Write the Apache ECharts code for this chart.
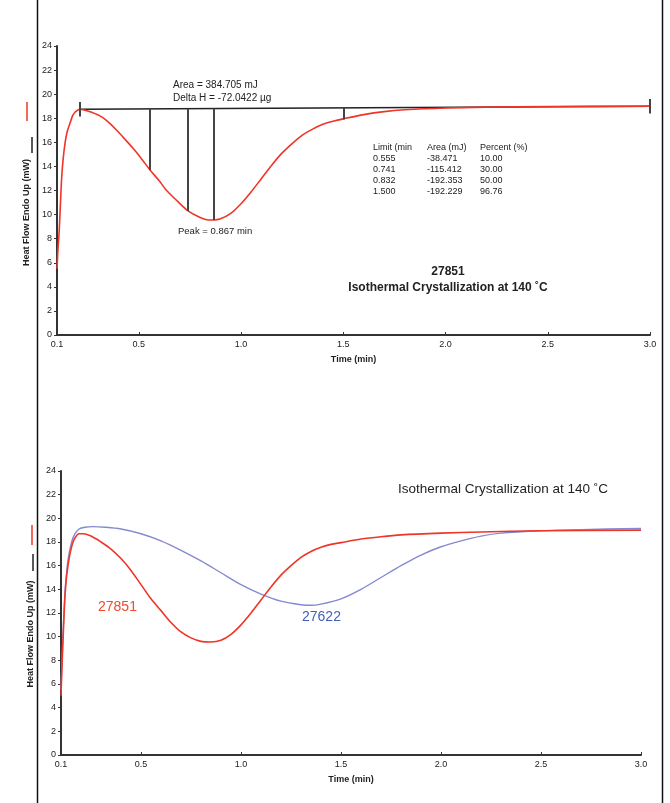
<!DOCTYPE html>
<html>
<head>
<meta charset="utf-8">
<script src="https://cdn.jsdelivr.net/npm/echarts@6/dist/echarts.min.js"></script>
<style>html,body{margin:0;padding:0;background:#fff}#c{width:670px;height:803px}</style>
</head>
<body>
<div id="c"></div>
<script>
// ---- data ----
var xTicks = [0.1, 0.5, 1.0, 1.5, 2.0, 2.5, 3.0];
var topRed = [[0.100,5.5],[0.105,7.2],[0.111,8.7],[0.117,11.0],[0.123,13.1],[0.130,14.6],[0.139,15.9],[0.150,16.9],[0.164,17.6],[0.176,18.2],[0.188,18.5],[0.212,18.75],[0.25,18.6],[0.31,18.2],[0.35,17.7],[0.392,17.0],[0.43,16.3],[0.472,15.5],[0.515,14.6],[0.555,13.7],[0.60,12.8],[0.636,12.0],[0.69,11.1],[0.741,10.3],[0.80,9.75],[0.84,9.55],[0.867,9.55],[0.90,9.65],[0.95,10.1],[1.0,10.9],[1.05,11.9],[1.10,13.0],[1.15,14.1],[1.20,15.1],[1.25,15.9],[1.30,16.6],[1.35,17.1],[1.40,17.5],[1.45,17.75],[1.50,17.95],[1.60,18.3],[1.70,18.55],[1.80,18.7],[2.0,18.85],[2.2,18.92],[2.5,18.97],[3.0,19.0]];
var baseline = [[0.212,18.75],[3.0,19.0]];
var limitTimes = [0.555, 0.741, 0.867, 1.5];
var limitCurveValues = [13.7, 10.3, 9.55, 17.9];
var tableHeader = ['Limit (min', 'Area (mJ)', 'Percent (%)'];
var tableLimits = ['0.555', '0.741', '0.832', '1.500'];
var tableAreas = ['-38.471', '-115.412', '-192.353', '-192.229'];
var tablePercents = ['10.00', '30.00', '50.00', '96.76'];
var botRed = [[0.100,5.0],[0.105,7.5],[0.112,10.5],[0.118,12.8],[0.125,14.6],[0.135,16.0],[0.145,17.0],[0.158,17.9],[0.172,18.4],[0.19,18.7],[0.21,18.7],[0.25,18.5],[0.30,18.0],[0.35,17.4],[0.40,16.6],[0.45,15.6],[0.50,14.4],[0.55,13.2],[0.60,12.2],[0.65,11.2],[0.70,10.4],[0.75,9.9],[0.80,9.6],[0.85,9.55],[0.90,9.7],[0.95,10.2],[1.0,11.0],[1.05,12.0],[1.10,13.1],[1.15,14.2],[1.20,15.2],[1.25,16.0],[1.30,16.7],[1.35,17.2],[1.40,17.55],[1.45,17.8],[1.50,17.95],[1.60,18.25],[1.70,18.45],[1.80,18.6],[2.0,18.75],[2.2,18.85],[2.5,18.95],[3.0,19.0]];
var botBlue = [[0.100,5.5],[0.105,8.0],[0.112,11.0],[0.12,13.8],[0.13,15.8],[0.14,17.0],[0.155,18.1],[0.17,18.7],[0.19,19.1],[0.22,19.25],[0.26,19.3],[0.32,19.25],[0.40,19.1],[0.50,18.7],[0.60,18.1],[0.70,17.3],[0.80,16.4],[0.90,15.4],[1.0,14.4],[1.1,13.6],[1.2,13.0],[1.3,12.7],[1.35,12.65],[1.40,12.75],[1.50,13.2],[1.60,14.0],[1.70,15.0],[1.80,16.0],[1.90,16.9],[2.0,17.6],[2.1,18.1],[2.2,18.5],[2.3,18.75],[2.5,18.95],[2.7,19.05],[3.0,19.15]];

var FONT = '"Liberation Sans", Arial, sans-serif';
var RED = '#ef3527';
var BLUE = '#8589cf';

function baseAt(t) {
  var a = baseline[0], b = baseline[1];
  return a[1] + (b[1] - a[1]) * (t - a[0]) / (b[0] - a[0]);
}
var vLines = limitTimes.map(function (t, i) {
  return [{coord: [t, baseAt(t)]}, {coord: [t, limitCurveValues[i]]}];
});
var endTicks = [baseline[0], baseline[1]].map(function (p) {
  return [{coord: [p[0], p[1] + 0.6]}, {coord: [p[0], p[1] - 0.6]}];
});

function xAxisCfg(gi) {
  return {
    type: 'value', gridIndex: gi, min: 0.1, max: 3.0,
    name: 'Time (min)', nameLocation: 'middle', nameGap: 20,
    nameTextStyle: {fontFamily: FONT, fontSize: 9, fontWeight: 'bold', color: '#222'},
    axisLine: {lineStyle: {color: '#333', width: 2}},
    axisTick: {show: true, inside: true, length: 3, customValues: xTicks, lineStyle: {color: '#333'}},
    axisLabel: {customValues: xTicks, fontFamily: FONT, fontSize: 9, color: '#222', margin: 5,
      formatter: function (v) { return v.toFixed(1); }},
    splitLine: {show: false}
  };
}
function yAxisCfg(gi, gap, pad) {
  return {
    type: 'value', gridIndex: gi, min: 0, max: 24, interval: 2,
    name: '{t|Heat Flow Endo Up (mW)}{g| }',
    nameLocation: 'middle', nameRotate: 90, nameGap: gap,
    nameTextStyle: {rich: {
      t: {fontFamily: FONT, fontSize: 9, fontWeight: 'bold', color: '#222'},
      g: {fontFamily: FONT, fontSize: 9, width: pad}
    }},
    axisLine: {show: true, lineStyle: {color: '#333', width: 2}},
    axisTick: {show: true, length: 3, lineStyle: {color: '#333'}},
    axisLabel: {fontFamily: FONT, fontSize: 9, color: '#222', margin: 5},
    splitLine: {show: false}
  };
}

var g = [];
function L(x1, y1, x2, y2, c, w) {
  g.push({type: 'line', silent: true, shape: {x1: x1, y1: y1, x2: x2, y2: y2}, style: {stroke: c, lineWidth: w}});
}
// page frame
L(37.5, 0, 37.5, 803, '#111', 1.5);
L(662.5, 0, 662.5, 803, '#111', 1.5);
// legend dashes beside the axis titles
L(27, 102, 27, 121, RED, 1.5);
L(32, 137, 32, 153, '#222', 1.5);
L(32, 525, 32, 545, RED, 1.5);
L(33, 554, 33, 571, '#222', 1.5);
function T(x, y, s, opt) {
  opt = opt || {};
  g.push({type: 'text', silent: true, x: x, y: y, style: {
    text: s, fill: opt.color || '#222', fontFamily: FONT, fontSize: opt.size || 9,
    fontWeight: opt.weight || 'normal', align: opt.align || 'left', verticalAlign: 'middle'
  }});
}
T(173, 85, 'Area = 384.705 mJ', {size: 10});
T(173, 98, 'Delta H = -72.0422 µg', {size: 10});
var colX = [373, 427, 480];
tableHeader.forEach(function (h, i) { T(colX[i], 148, h, {size: 9}); });
tableLimits.forEach(function (v, r) {
  var y = 159 + r * 11;
  T(colX[0], y, v, {size: 9});
  T(colX[1], y, tableAreas[r], {size: 9});
  T(colX[2], y, tablePercents[r], {size: 9});
});
T(178, 231, 'Peak = 0.867 min', {size: 9.5});
T(448, 272, '27851', {size: 12, weight: 'bold', align: 'center'});
T(448, 288, 'Isothermal Crystallization at 140 ˚C', {size: 12, weight: 'bold', align: 'center'});
T(398, 489, 'Isothermal Crystallization at 140 ˚C', {size: 13.5});
T(98, 607, '27851', {size: 14, color: '#f0492c'});
T(302, 617, '27622', {size: 14, color: '#4260b8'});

var chart = echarts.init(document.getElementById('c'), null, {renderer: 'canvas'});
chart.setOption({
  backgroundColor: '#fff',
  animation: false,
  grid: [
    {left: 57, top: 46, width: 593, height: 289},
    {left: 61, top: 471, width: 580, height: 284}
  ],
  xAxis: [xAxisCfg(0), xAxisCfg(1)],
  yAxis: [yAxisCfg(0, 24, 44), yAxisCfg(1, 25, 42)],
  series: [
    {type: 'line', xAxisIndex: 0, yAxisIndex: 0, data: baseline, symbol: 'none',
      lineStyle: {color: '#222', width: 1.5},
      markLine: {silent: true, symbol: 'none', label: {show: false},
        lineStyle: {color: '#444', width: 2, type: 'solid'},
        data: vLines.concat(endTicks)}},
    {type: 'line', xAxisIndex: 0, yAxisIndex: 0, data: topRed, symbol: 'none', smooth: 0.3,
      lineStyle: {color: RED, width: 1.6}},
    {type: 'line', xAxisIndex: 1, yAxisIndex: 1, data: botBlue, symbol: 'none', smooth: 0.3,
      lineStyle: {color: BLUE, width: 1.4}},
    {type: 'line', xAxisIndex: 1, yAxisIndex: 1, data: botRed, symbol: 'none', smooth: 0.3,
      lineStyle: {color: RED, width: 1.6}}
  ],
  graphic: g
});
</script>
</body>
</html>
